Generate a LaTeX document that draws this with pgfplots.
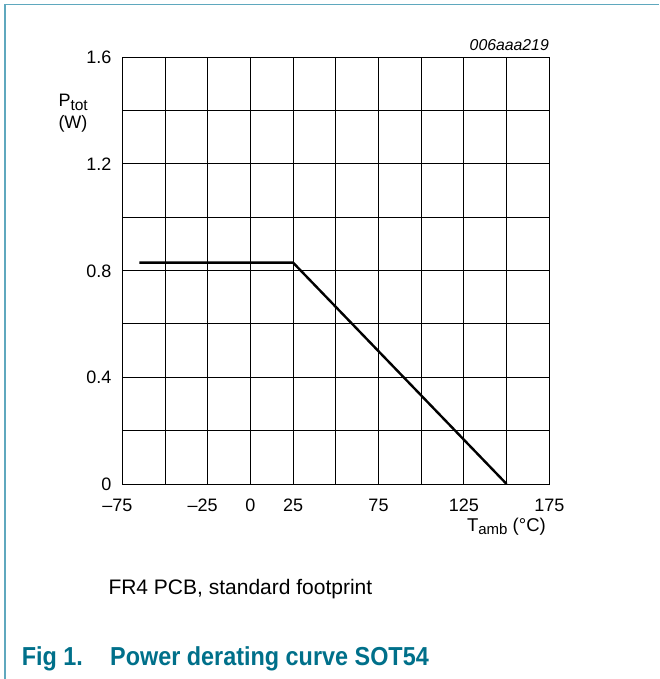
\documentclass[border=0pt]{standalone}
\usepackage{pgfplots}
\pgfplotsset{compat=1.18}
\usepackage{fontspec}
\setmainfont{Liberation Sans}
\newfontfamily\titlefont[FakeStretch=0.9]{Liberation Sans}
\definecolor{frameteal}{RGB}{95,168,190}
\definecolor{titleteal}{RGB}{0,112,138}

\begin{document}
\begin{tikzpicture}
\useasboundingbox (0,0) rectangle (659pt,-679pt);
% outer frame (top and left edges only)
\draw[frameteal, line width=1.2pt] (5pt,-679pt) -- (5pt,-4.3pt) -- (659pt,-4.3pt);

\begin{axis}[
    at={(122.3pt,-484pt)}, anchor=south west,
    scale only axis,
    width=427pt, height=426.7pt,
    xmin=-75, xmax=175,
    ymin=0, ymax=1.6,
    xtick={-75,-50,-25,0,25,50,75,100,125,150,175},
    xticklabels={\llap{\textendash}75,,\llap{\textendash}25,0,25,,75,,125,,175},
    ytick={0,0.2,0.4,0.6,0.8,1.0,1.2,1.4,1.6},
    yticklabels={0,,0.4,,0.8,,1.2,,1.6},
    grid=major,
    major grid style={black, line width=1pt},
    axis line style={black, line width=1pt},
    major tick length=0pt,
    tick label style={font=\fontsize{18}{18}\selectfont, inner sep=0pt},
    xticklabel style={anchor=base, yshift=-27pt},
    yticklabel style={anchor=base east, xshift=-10.6pt, yshift=-6.4pt},
    clip=false,
]
\addplot[black, line width=2.4pt, line join=miter] coordinates {
    (-65,0.83) (25,0.83) (150,0)
};
\end{axis}

% y axis label
\node[anchor=base west, inner sep=0pt, font=\fontsize{18}{18}\selectfont]
    at (58.3pt,-106.5pt) {P\raisebox{-4pt}{\fontsize{15.5}{15.5}\selectfont tot}};
\node[anchor=base west, inner sep=0pt, font=\fontsize{18}{18}\selectfont]
    at (58.3pt,-128.3pt) {(W)};
% x axis label
\node[anchor=base east, inner sep=0pt, font=\fontsize{18.5}{18.5}\selectfont]
    at (546pt,-531pt) {T\raisebox{-3.5pt}{\fontsize{15}{15}\selectfont amb} (°C)};
% drawing code
\node[anchor=base east, inner sep=0pt, font=\fontsize{15.8}{15.8}\selectfont\itshape]
    at (549pt,-50.7pt) {006aaa219};
% footnote
\node[anchor=base west, inner sep=0pt, font=\fontsize{21}{21}\selectfont]
    at (108.3pt,-594pt) {FR4 PCB, standard footprint};
% caption
\node[anchor=base west, inner sep=0pt, text=titleteal, font=\titlefont\bfseries\fontsize{26}{26}\selectfont]
    at (21.7pt,-665.7pt) {Fig 1.};
\node[anchor=base west, inner sep=0pt, text=titleteal, font=\titlefont\bfseries\fontsize{26}{26}\selectfont]
    at (110pt,-665.7pt) {Power derating curve SOT54};
\end{tikzpicture}
\end{document}
